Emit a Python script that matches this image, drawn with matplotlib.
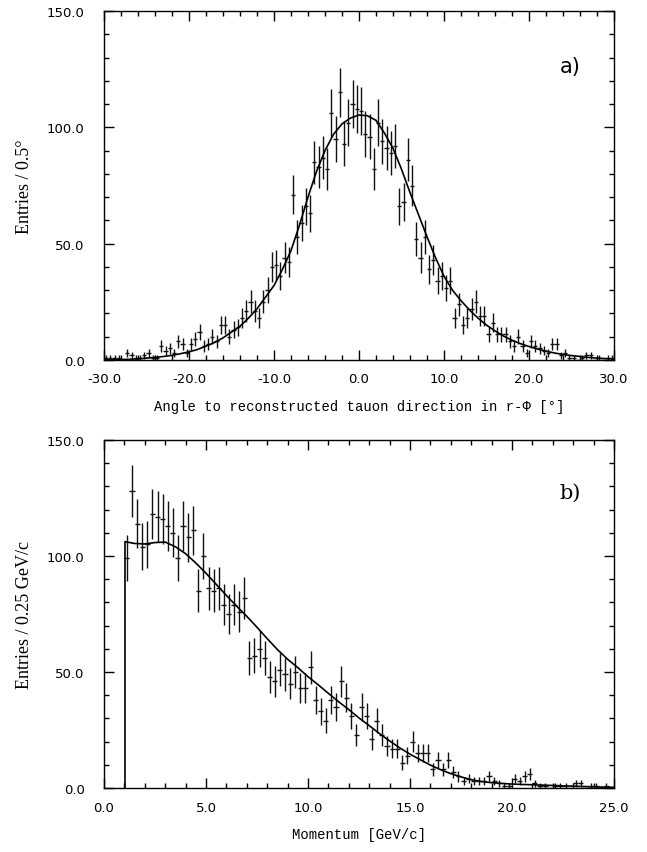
import numpy as np
import matplotlib
matplotlib.use("Agg")
import matplotlib.pyplot as plt
from matplotlib.ticker import MultipleLocator, FormatStrFormatter

plt.rcParams['axes.unicode_minus'] = False

# panel a: angle histogram, 0.5 deg bins from -30 to 30
angle_counts = [1, 1, 1, 1, 0, 3, 2, 1, 1, 2,
                3, 1, 1, 6, 4, 5, 3, 8, 7, 3,
                7, 9, 12, 6, 7, 10, 8, 15, 15, 10,
                13, 14, 18, 21, 25, 21, 18, 25, 30, 40,
                41, 36, 44, 42, 71, 53, 59, 66, 63, 85,
                83, 87, 82, 106, 95, 115, 93, 102, 110, 108,
                107, 97, 96, 82, 102, 94, 91, 89, 92, 66,
                68, 86, 75, 52, 44, 53, 39, 43, 34, 36,
                31, 34, 18, 24, 15, 18, 22, 25, 19, 19,
                11, 16, 11, 11, 11, 8, 6, 10, 6, 3,
                8, 6, 5, 4, 3, 7, 7, 2, 3, 1,
                1, 0, 1, 2, 2, 0, 1, 0, 1, 1]
angle_fit_x = list(range(-30, 31))
angle_fit_y = [0.1, 0.1, 0.2, 0.3, 0.5, 0.8, 1.1, 1.5, 2.0, 2.7,
               3.5, 4.5, 6.0, 7.5, 9.5, 12.0, 14.5, 18.0, 22.0, 27.0,
               32.0, 39.0, 47.0, 58.0, 70.0, 81.0, 90.0, 97.0, 101.5, 104.0,
               105.3, 105.0, 103.0, 97.5, 91.0, 82.0, 72.0, 62.5, 53.0, 44.0,
               36.0, 30.0, 25.5, 21.5, 18.0, 15.0, 12.5, 10.3, 8.5, 7.0,
               5.8, 4.7, 3.8, 3.0, 2.4, 1.9, 1.5, 1.1, 0.8, 0.6, 0.4]

# panel b: momentum histogram, 0.25 GeV/c bins starting at 1.0
mom_counts = [99, 128, 114, 104, 105, 118, 117, 116, 113, 110,
              99, 113, 108, 111, 85, 100, 86, 85, 86, 79,
              75, 79, 76, 82, 56, 57, 60, 56, 48, 46,
              51, 49, 45, 50, 43, 43, 52, 38, 33, 29,
              38, 35, 46, 39, 31, 23, 35, 31, 21, 29,
              23, 18, 17, 17, 11, 14, 20, 15, 15, 15,
              8, 12, 8, 12, 7, 5, 3, 4, 3, 3,
              3, 5, 3, 2, 1, 1, 4, 3, 5, 6,
              2, 1, 1, 0, 1, 1, 1, 0, 2, 2,
              0, 1, 1, 0, 1, 0]
mom_fit_x = [1.03, 1.03, 1.5, 2.0, 2.5, 3.0, 3.5, 4.0, 4.5, 5.0,
             5.5, 6.0, 6.5, 7.0, 7.5, 8.0, 8.5, 9.0, 9.5, 10.0,
             10.5, 11.0, 11.5, 12.0, 12.5, 13.0, 13.5, 14.0, 14.5, 15.0,
             15.5, 16.0, 16.5, 17.0, 17.5, 18.0, 18.5, 19.0, 19.5, 20.0,
             21.0, 22.0, 23.0, 24.0, 25.0]
mom_fit_y = [0.0, 106.2, 105.4, 105.2, 105.8, 106.0, 104.0, 101.0, 97.0, 92.6,
             87.8, 83.0, 78.4, 74.0, 69.3, 64.4, 59.7, 55.5, 51.9, 48.0,
             44.5, 40.8, 37.2, 33.8, 30.2, 26.9, 23.5, 20.3, 17.3, 14.6,
             12.2, 9.9, 7.9, 6.2, 4.8, 3.6, 2.8, 2.3, 2.0, 1.7,
             1.4, 1.1, 0.8, 0.5, 0.3]

angle_x = np.arange(len(angle_counts)) * 0.5 - 29.75
mom_x = np.arange(len(mom_counts)) * 0.25 + 1.125

fig = plt.figure(figsize=(6.47, 8.53), dpi=100)
ax1 = fig.add_axes([0.1607, 0.5768, 0.7883, 0.4091])
ax2 = fig.add_axes([0.1607, 0.075, 0.7883, 0.408])

def hist_points(ax, x, counts, halfw):
    c = np.array(counts, dtype=float)
    ax.errorbar(x, c, yerr=np.sqrt(c), xerr=halfw, fmt='none',
                ecolor='#111111', elinewidth=1.0, capsize=0)

hist_points(ax1, angle_x, angle_counts, 0.25)
ax1.plot(angle_fit_x, angle_fit_y, color='black', lw=1.2)
hist_points(ax2, mom_x, mom_counts, 0.125)
ax2.plot(mom_fit_x, mom_fit_y, color='black', lw=1.2)

for ax in (ax1, ax2):
    ax.set_ylim(0, 150)
    ax.yaxis.set_major_locator(MultipleLocator(50))
    ax.yaxis.set_minor_locator(MultipleLocator(10))
    ax.yaxis.set_major_formatter(FormatStrFormatter('%.1f'))
    ax.xaxis.set_major_formatter(FormatStrFormatter('%.1f'))
    ax.tick_params(which='both', direction='in', top=True, right=True,
                   labelsize=9.5, width=1.0)
    ax.tick_params(which='major', length=7)
    ax.tick_params(axis='x', which='major', pad=9)
    ax.tick_params(axis='y', which='major', pad=14)
    ax.tick_params(which='minor', length=3.5)
    for s in ax.spines.values():
        s.set_linewidth(1.0)

ax1.set_xlim(-30, 30)
ax1.xaxis.set_major_locator(MultipleLocator(10))
ax1.xaxis.set_minor_locator(MultipleLocator(2))
ax2.set_xlim(0, 25)
ax2.xaxis.set_major_locator(MultipleLocator(5))
ax2.xaxis.set_minor_locator(MultipleLocator(1))

ax1.set_xlabel('Angle to reconstructed tauon direction in r-\u03a6 [\u00b0]',
               family='Liberation Mono', fontsize=10, labelpad=10)
ax2.set_xlabel('Momentum [GeV/c]', family='Liberation Mono', fontsize=10, labelpad=10)
ax1.set_ylabel('Entries / 0.5\u00b0', family='Liberation Serif', fontsize=13, labelpad=10)
ax2.set_ylabel('Entries / 0.25 GeV/c', family='Liberation Serif', fontsize=13, labelpad=10)

ax1.text(0.914, 0.842, 'a)', transform=ax1.transAxes, fontsize=15,
         ha='center', va='center')
ax2.text(0.914, 0.85, 'b)', transform=ax2.transAxes, fontsize=15,
         ha='center', va='center', family='DejaVu Serif')

fig.savefig('out.png', dpi=100)
